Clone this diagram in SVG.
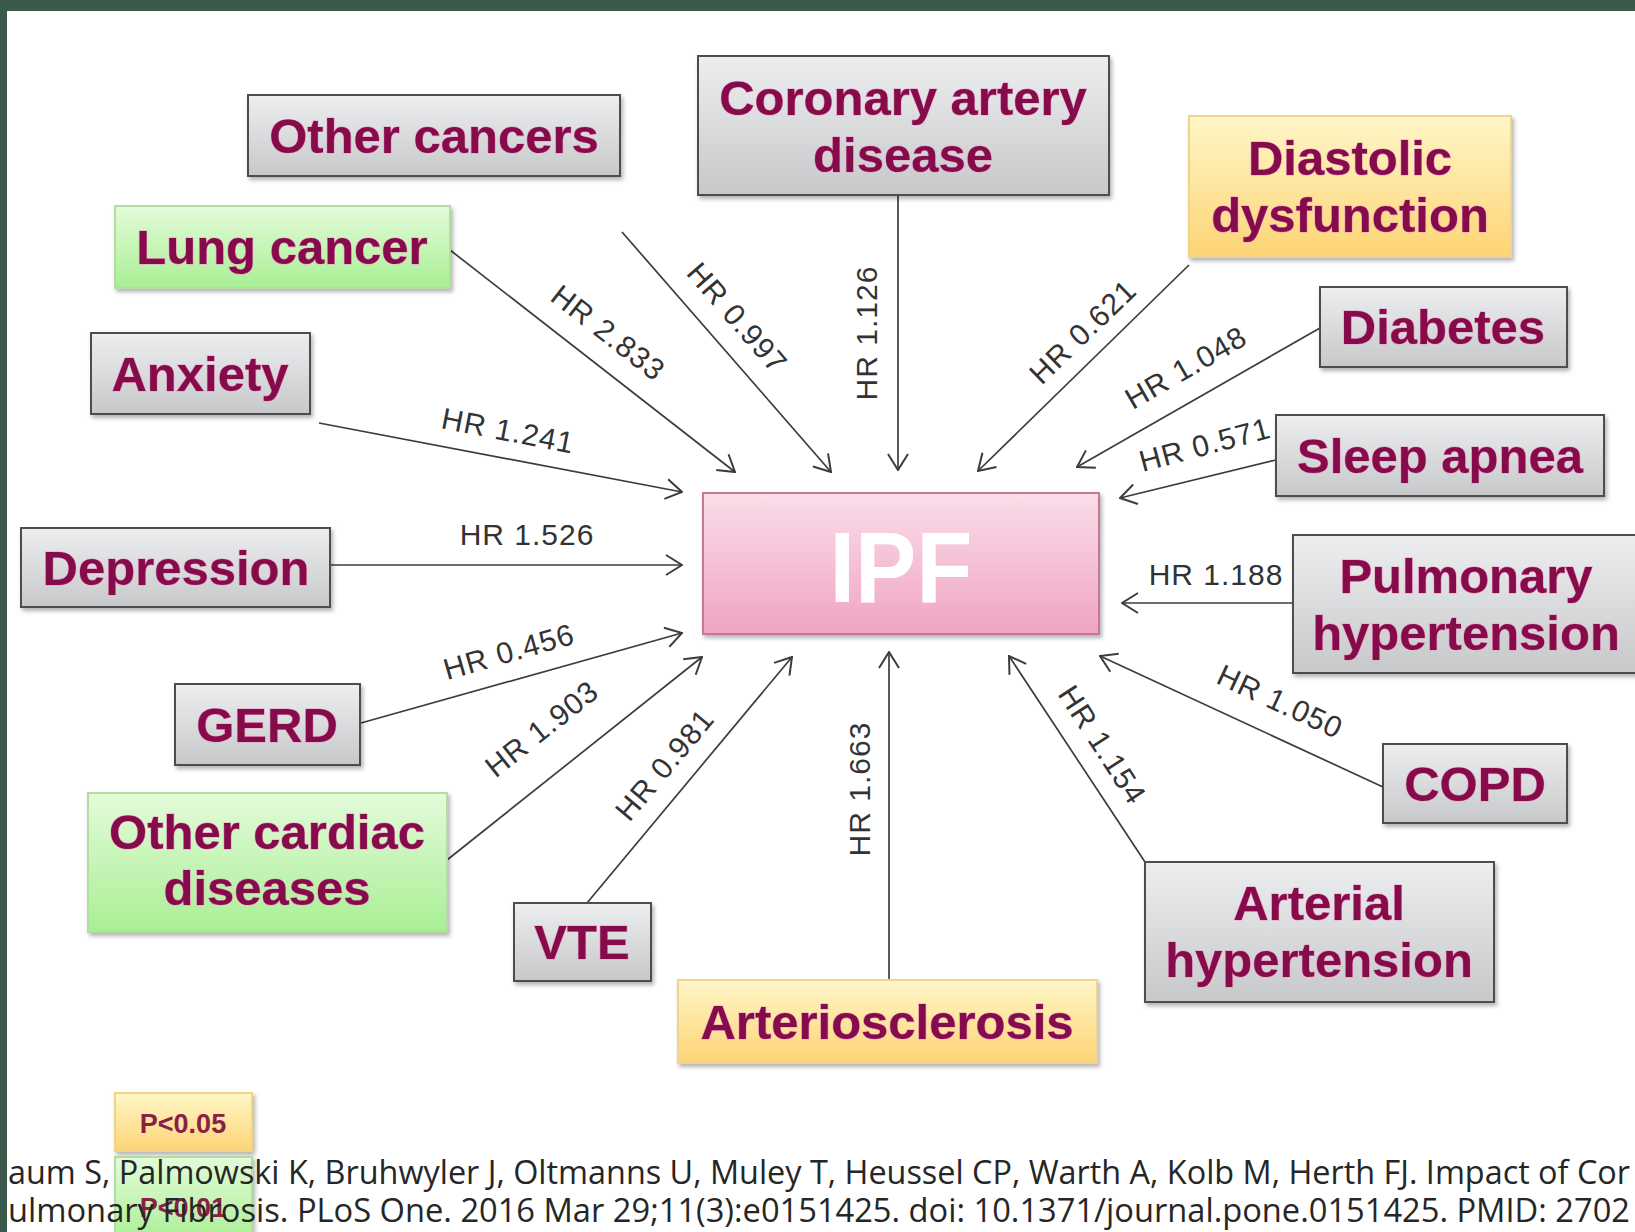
<svg xmlns="http://www.w3.org/2000/svg" width="1635" height="1232" viewBox="0 0 1635 1232">
<style>
.gray{fill:url(#gGray);stroke:#4d4d4d;stroke-width:2}
.green{fill:url(#gGreen);stroke:#b3dda3;stroke-width:2}
.yellow{fill:url(#gYellow);stroke:#efd48a;stroke-width:2}
.pink{fill:url(#gPink);stroke:#c47896;stroke-width:2}
.box{filter:url(#sh)}
.lbl{font-family:"Liberation Sans",Arial,Helvetica,sans-serif;font-weight:bold;font-size:49px;fill:#850b4a;text-anchor:middle;stroke:#e99cc6;stroke-width:1.2;paint-order:stroke}
.hr{font-family:"Liberation Sans",Arial,Helvetica,sans-serif;font-size:30px;fill:#333333;text-anchor:middle;letter-spacing:1px}
.conn{stroke:#3c3c3c;stroke-width:1.7;fill:none;marker-end:url(#arr)}
.cite{font-family:"Open Sans","Liberation Sans",sans-serif;font-size:33px;fill:#262626}
.leg{font-family:"Liberation Sans",Arial,sans-serif;font-weight:bold;font-size:27px;fill:#8a2046;text-anchor:middle}
</style>
<defs>
<linearGradient id="gGray" x1="0" y1="0" x2="0" y2="1"><stop offset="0" stop-color="#eceef0"/><stop offset="1" stop-color="#c6c8c9"/></linearGradient>
<linearGradient id="gGreen" x1="0" y1="0" x2="0" y2="1"><stop offset="0" stop-color="#e4fbda"/><stop offset="1" stop-color="#a9ef94"/></linearGradient>
<linearGradient id="gYellow" x1="0" y1="0" x2="0" y2="1"><stop offset="0" stop-color="#fff6c8"/><stop offset="1" stop-color="#fdd474"/></linearGradient>
<linearGradient id="gPink" x1="0" y1="0" x2="0" y2="1"><stop offset="0" stop-color="#fbdde9"/><stop offset="1" stop-color="#efa4c3"/></linearGradient>
<filter id="sh" x="-10%" y="-10%" width="120%" height="130%"><feDropShadow dx="2" dy="3" stdDeviation="2" flood-color="#000" flood-opacity="0.3"/></filter>
<marker id="arr" viewBox="-1 -1 18 22" refX="16" refY="10" markerWidth="18" markerHeight="22" markerUnits="userSpaceOnUse" orient="auto"><path d="M0,0 L16,10 L0,20" fill="none" stroke="#3c3c3c" stroke-width="2"/></marker>
</defs>
<rect x="0" y="0" width="1635" height="1232" fill="#ffffff"/>
<rect x="0" y="0" width="1635" height="11" fill="#3c5a4b"/>
<rect x="0" y="0" width="7" height="1232" fill="#3c5a4b"/>

<g id="connectors">
<line class="conn" x1="622" y1="232" x2="831" y2="472"/>
<line class="conn" x1="450" y1="250" x2="735" y2="472"/>
<line class="conn" x1="898" y1="195" x2="898" y2="470"/>
<line class="conn" x1="1189" y1="265" x2="978" y2="471"/>
<line class="conn" x1="1320" y1="328" x2="1077" y2="467"/>
<line class="conn" x1="1276" y1="460" x2="1120" y2="498"/>
<line class="conn" x1="319" y1="423" x2="682" y2="492"/>
<line class="conn" x1="330" y1="565" x2="682" y2="565"/>
<line class="conn" x1="1293" y1="603" x2="1122" y2="603"/>
<line class="conn" x1="361" y1="723" x2="682" y2="633"/>
<line class="conn" x1="447" y1="860" x2="702" y2="657"/>
<line class="conn" x1="587" y1="903" x2="792" y2="657"/>
<line class="conn" x1="889" y1="980" x2="889" y2="652"/>
<line class="conn" x1="1145" y1="862" x2="1009" y2="656"/>
<line class="conn" x1="1383" y1="787" x2="1100" y2="656"/>
<text class="hr" transform="translate(737,318) rotate(49)" y="10">HR 0.997</text>
<text class="hr" transform="translate(608,333) rotate(38)" y="10">HR 2.833</text>
<text class="hr" transform="translate(867,333) rotate(-90)" y="10">HR 1.126</text>
<text class="hr" transform="translate(1083,332) rotate(-44)" y="10">HR 0.621</text>
<text class="hr" transform="translate(1186,368) rotate(-30)" y="10">HR 1.048</text>
<text class="hr" transform="translate(1205,445) rotate(-15)" y="10">HR 0.571</text>
<text class="hr" transform="translate(508,431) rotate(11)" y="10">HR 1.241</text>
<text class="hr" x="527" y="545">HR 1.526</text>
<text class="hr" x="1216" y="585">HR 1.188</text>
<text class="hr" transform="translate(509,652) rotate(-16)" y="10">HR 0.456</text>
<text class="hr" transform="translate(542,729) rotate(-38.5)" y="10">HR 1.903</text>
<text class="hr" transform="translate(665,765) rotate(-50)" y="10">HR 0.981</text>
<text class="hr" transform="translate(860,789) rotate(-90)" y="10">HR 1.663</text>
<text class="hr" transform="translate(1102,745) rotate(57)" y="10">HR 1.154</text>
<text class="hr" transform="translate(1280,702) rotate(25)" y="10">HR 1.050</text>
</g>

<g id="ipf"><rect class="pink box" x="703" y="493" width="396" height="141"/><text x="901" y="602" font-family="Liberation Sans,Arial,sans-serif" font-weight="bold" font-size="100" fill="#ffffff" text-anchor="middle" textLength="143" lengthAdjust="spacingAndGlyphs">IPF</text></g>
<g id="other-cancers"><rect class="gray box" x="248" y="95" width="372" height="81"/><text class="lbl" x="434" y="153">Other cancers</text></g>
<g id="coronary"><rect class="gray box" x="698" y="56" width="411" height="139"/><text class="lbl" x="903" y="115">Coronary artery</text><text class="lbl" x="903" y="172">disease</text></g>
<g id="diastolic"><rect class="yellow box" x="1189" y="116" width="322" height="141"/><text class="lbl" x="1350" y="175">Diastolic</text><text class="lbl" x="1350" y="232">dysfunction</text></g>
<g id="lung-cancer"><rect class="green box" x="115" y="206" width="335" height="82"/><text class="lbl" x="282" y="264">Lung cancer</text></g>
<g id="diabetes"><rect class="gray box" x="1320" y="287" width="247" height="80"/><text class="lbl" x="1443" y="344">Diabetes</text></g>
<g id="anxiety"><rect class="gray box" x="91" y="333" width="219" height="81"/><text class="lbl" x="200" y="391">Anxiety</text></g>
<g id="sleep-apnea"><rect class="gray box" x="1276" y="415" width="328" height="81"/><text class="lbl" x="1440" y="473">Sleep apnea</text></g>
<g id="depression"><rect class="gray box" x="21" y="528" width="309" height="79"/><text class="lbl" x="176" y="585">Depression</text></g>
<g id="pulmonary-hypertension"><rect class="gray box" x="1293" y="535" width="350" height="138"/><text class="lbl" x="1466" y="593">Pulmonary</text><text class="lbl" x="1466" y="650">hypertension</text></g>
<g id="gerd"><rect class="gray box" x="175" y="684" width="185" height="81"/><text class="lbl" x="267" y="742">GERD</text></g>
<g id="copd"><rect class="gray box" x="1383" y="744" width="184" height="79"/><text class="lbl" x="1475" y="801">COPD</text></g>
<g id="other-cardiac"><rect class="green box" x="88" y="793" width="359" height="139"/><text class="lbl" x="267" y="849">Other cardiac</text><text class="lbl" x="267" y="905">diseases</text></g>
<g id="vte"><rect class="gray box" x="514" y="903" width="137" height="78"/><text class="lbl" x="582" y="959">VTE</text></g>
<g id="arterial-hypertension"><rect class="gray box" x="1145" y="862" width="349" height="140"/><text class="lbl" x="1319" y="920">Arterial</text><text class="lbl" x="1319" y="977">hypertension</text></g>
<g id="arteriosclerosis"><rect class="yellow box" x="678" y="980" width="419" height="83"/><text class="lbl" x="887" y="1039">Arteriosclerosis</text></g>

<g id="legend-p005"><rect class="yellow box" x="115" y="1093" width="137" height="58"/><text class="leg" x="183" y="1133">P&lt;0.05</text></g>
<g id="legend-p001"><rect class="green box" x="115" y="1157" width="137" height="85"/><text class="leg" x="183" y="1217">P&lt;0.01</text></g>

<text class="cite" x="8" y="1184" textLength="1622" lengthAdjust="spacingAndGlyphs">aum S, Palmowski K, Bruhwyler J, Oltmanns U, Muley T, Heussel CP, Warth A, Kolb M, Herth FJ. Impact of Cor</text>
<text class="cite" x="8" y="1222" textLength="1622" lengthAdjust="spacingAndGlyphs">ulmonary Fibrosis. PLoS One. 2016 Mar 29;11(3):e0151425. doi: 10.1371/journal.pone.0151425. PMID: 2702</text>
</svg>
